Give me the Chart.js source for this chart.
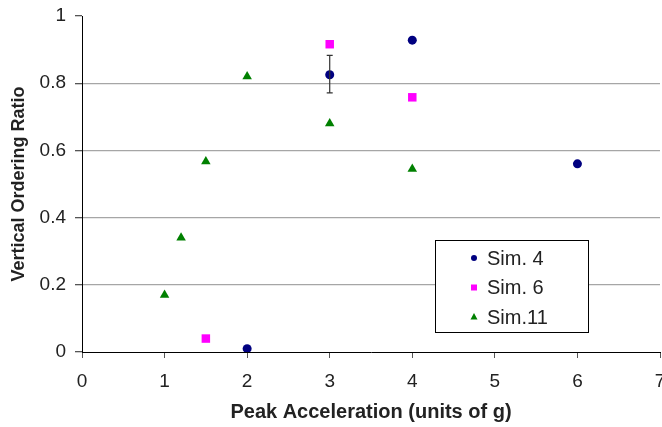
<!DOCTYPE html>
<html>
<head>
<meta charset="utf-8">
<script src="https://cdn.jsdelivr.net/npm/chart.js@4/dist/chart.umd.min.js"></script>
<style>
  html,body{margin:0;padding:0;background:#fff;overflow:hidden;}
  canvas{display:block;}
</style>
</head>
<body>
<canvas id="c" width="662" height="427"></canvas>
<script>
// data
const sim4X = [2, 3, 4, 6];
const sim4Y = [0.01, 0.825, 0.928, 0.56];
const sim6X = [1.5, 3, 4];
const sim6Y = [0.04, 0.916, 0.758];
const sim11X = [1, 1.2, 1.5, 2, 3, 4];
const sim11Y = [0.17, 0.34, 0.567, 0.82, 0.68, 0.545];
// one error bar on Sim. 4 at x=3
const errX = 3, errLow = 0.771, errHigh = 0.883;
const xTicks = [0,1,2,3,4,5,6,7];
const yTicks = [0,0.2,0.4,0.6,0.8,1];

const FONT = "'Liberation Sans', Arial, sans-serif";
const pts = (xs, ys) => xs.map((x,i)=>({x, y: ys[i]}));

const errorBar = {
  id: 'errorBar',
  afterDatasetsDraw(chart){
    const {ctx, scales:{x, y}} = chart;
    const px = x.getPixelForValue(errX);
    const top = y.getPixelForValue(errHigh), bot = y.getPixelForValue(errLow);
    ctx.save();
    ctx.strokeStyle = '#333'; ctx.lineWidth = 1.2;
    ctx.beginPath();
    ctx.moveTo(px, top); ctx.lineTo(px, bot);
    ctx.moveTo(px-3, top); ctx.lineTo(px+3, top);
    ctx.moveTo(px-3, bot); ctx.lineTo(px+3, bot);
    ctx.stroke();
    ctx.restore();
  }
};

// legend box drawn inside plot
const boxLegend = {
  id: 'boxLegend',
  afterDraw(chart){
    const ctx = chart.ctx, ca = chart.chartArea;
    const bx = ca.left + 353, by = ca.top + 224, bw = 153, bh = 92;
    ctx.save();
    ctx.fillStyle = '#fff'; ctx.fillRect(bx, by, bw, bh);
    ctx.strokeStyle = '#000'; ctx.lineWidth = 1;
    ctx.strokeRect(bx+0.5, by+0.5, bw, bh);
    ctx.font = '20px ' + FONT; ctx.textBaseline = 'middle';
    chart.data.datasets.forEach((ds, i) => {
      const cy = by + 18 + i*29.5, mx = bx + 39;
      ctx.fillStyle = ds.backgroundColor;
      ctx.beginPath();
      if (ds.pointStyle === 'circle') ctx.arc(mx, cy, 3, 0, Math.PI*2);
      else if (ds.pointStyle === 'rect') ctx.rect(mx-3, cy-3, 6, 6);
      else { ctx.moveTo(mx, cy-4); ctx.lineTo(mx+3.5, cy+2.5); ctx.lineTo(mx-3.5, cy+2.5); ctx.closePath(); }
      ctx.fill();
      ctx.fillStyle = '#222';
      ctx.fillText(ds.label, bx + 52, cy + 1);
    });
    ctx.restore();
  }
};

new Chart(document.getElementById('c'), {
  type: 'scatter',
  data: {
    datasets: [
      {label:'Sim. 4', data: pts(sim4X, sim4Y), pointStyle:'circle', pointRadius:4.5,
       backgroundColor:'#000080', borderColor:'#000080', borderWidth:0},
      {label:'Sim. 6', data: pts(sim6X, sim6Y), pointStyle:'rect', pointRadius:6,
       backgroundColor:'#ff00ff', borderColor:'#ff00ff', borderWidth:0},
      {label:'Sim.11', data: pts(sim11X, sim11Y), pointStyle:'triangle', pointRadius:5.5,
       backgroundColor:'#008000', borderColor:'#008000', borderWidth:0}
    ]
  },
  options: {
    responsive: false,
    animation: false,
    devicePixelRatio: 1,
    layout: {autoPadding: false, padding: {top:16, right:2, left:0, bottom:0}},
    plugins: {legend:{display:false}, tooltip:{enabled:false}},
    scales: {
      x: {
        type:'linear', min:0, max:7,
        afterBuildTicks: s => { s.ticks = xTicks.map(v=>({value:v})); },
        afterFit: s => { s.height = 75; s.paddingRight = 0; s.paddingLeft = 0; },
        border: {color:'#000', width:1},
        grid: {drawOnChartArea:false, tickLength:6, tickColor:'#555'},
        ticks: {font:{family:FONT, size:19}, color:'#222', padding:12, maxRotation:0},
        title: {display:true, text:'Peak Acceleration (units of g)', color:'#222',
                font:{family:FONT, size:20, weight:'bold'}, padding:{top:0, bottom:3}}
      },
      y: {
        type:'linear', min:0, max:1,
        afterBuildTicks: s => { s.ticks = yTicks.map(v=>({value:v})); },
        afterFit: s => { s.width = 82; s.paddingTop = 0; s.paddingBottom = 0; },
        border: {color:'#000', width:1},
        grid: {
          color: c => (c.tick && (c.tick.value === 0 || c.tick.value === 1)) ? 'rgba(0,0,0,0)' : '#a6a6a6',
          lineWidth: 1.3, tickLength:7, tickColor:'#555'
        },
        ticks: {font:{family:FONT, size:19}, color:'#222', padding:9,
                callback: v => String(v)},
        title: {display:true, text:'Vertical Ordering Ratio', color:'#222',
                font:{family:FONT, size:18, weight:'bold'}, padding:{top:8, bottom:0}}
      }
    }
  },
  plugins: [errorBar, boxLegend]
});
</script>
</body>
</html>
